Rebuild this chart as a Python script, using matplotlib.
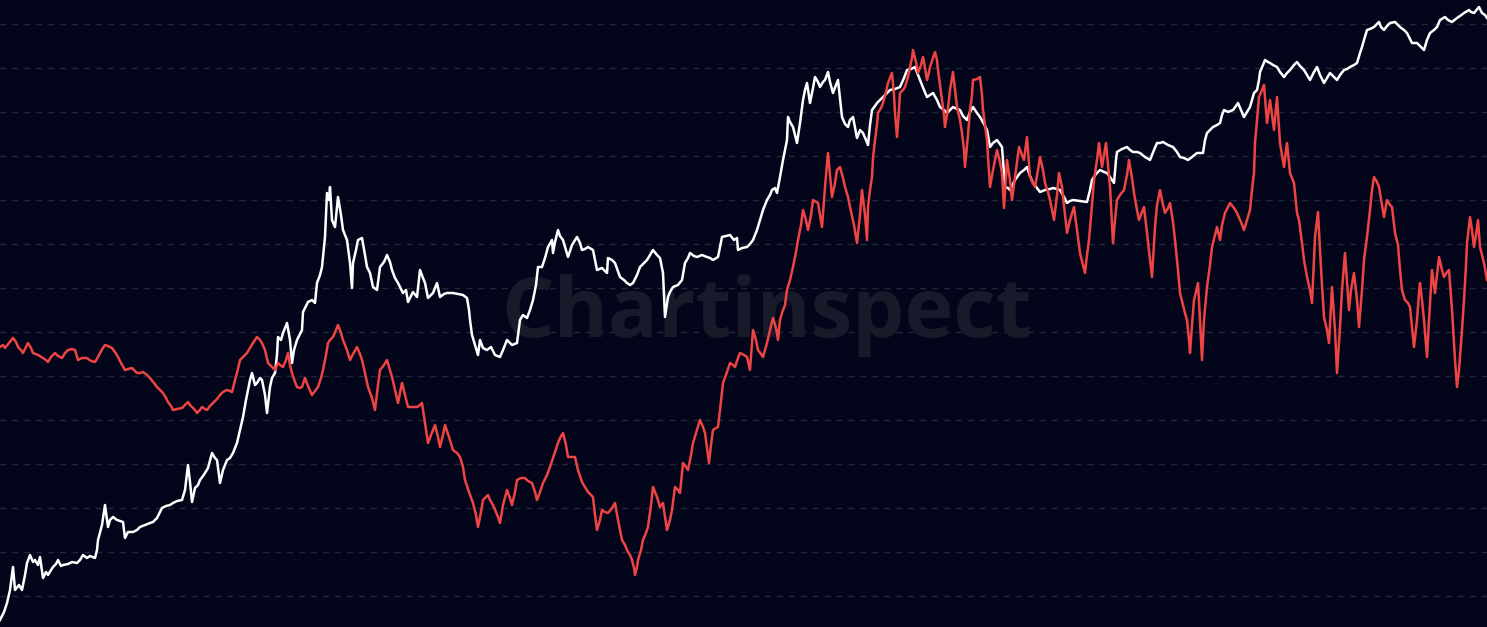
import numpy as np
import matplotlib
matplotlib.use("Agg")
import matplotlib.pyplot as plt

# values (x = time step, value on the chart's own scale)
white_pts = [(0,7),(4,15),(7,24),(10,37),(13,60),(15,37),(19,42),(22,37),(25,52),(27,64),(30,72),(33,65),(35,67),(38,62),(40,70),(43,49),(46,55),(48,52),(51,57),(53,60),(56,63),(58,67),(61,61),(63,62),(68,63),(72,65),(77,64),(80,67),(83,72),(87,69),(90,71),(95,69),(97,77),(98,87),(102,102),(105,122),(108,100),(110,107),(113,110),(117,107),(120,106),(123,105),(125,89),(128,95),(133,95),(137,97),(140,100),(145,102),(150,104),(153,105),(157,109),(162,119),(166,121),(170,122),(173,124),(177,126),(182,127),(185,137),(188,162),(190,145),(192,125),(195,139),(198,142),(200,147),(203,151),(205,154),(208,159),(212,174),(215,169),(217,167),(220,144),(223,157),(227,167),(230,169),(233,174),(237,184),(240,197),(243,210),(246,227),(248,237),(250,247),(252,254),(255,242),(257,244),(260,249),(262,247),(265,232),(267,214),(270,240),(272,249),(275,254),(277,272),(278,290),(281,287),(283,294),(285,299),(287,304),(290,287),(292,264),(294,277),(297,287),(300,293),(302,297),(303,315),(306,321),(308,325),(312,327),(315,324),(317,344),(320,352),(322,360),(325,390),(327,434),(329,427),(330,440),(332,407),(335,400),(338,430),(341,412),(343,397),(347,387),(350,364),(352,339),(353,364),(356,377),(358,387),(362,389),(365,372),(367,360),(370,354),(373,340),(377,337),(380,360),(384,365),(387,372),(390,365),(392,357),(395,349),(398,344),(403,334),(406,337),(408,325),(413,335),(417,330),(420,357),(423,349),(425,344),(428,329),(433,334),(437,344),(440,330),(444,333),(447,334),(453,334),(458,333),(463,332),(467,329),(469,317),(470,307),(472,292),(475,282),(478,272),(480,287),(483,279),(487,277),(491,280),(495,272),(500,270),(503,277),(507,287),(512,282),(517,284),(520,307),(523,312),(527,309),(530,317),(533,327),(536,342),(538,360),(542,360),(545,369),(548,380),(552,387),(553,374),(555,385),(558,397),(560,391),(563,387),(566,377),(568,370),(572,382),(577,390),(580,384),(582,377),(585,378),(588,380),(593,377),(597,357),(602,359),(607,354),(608,369),(612,367),(615,364),(620,350),(624,347),(627,344),(630,342),(633,344),(637,352),(640,360),(644,364),(647,367),(650,372),(653,377),(657,372),(660,369),(663,354),(665,310),(668,330),(670,335),(673,340),(678,342),(682,347),(685,364),(688,369),(690,374),(694,371),(697,370),(702,372),(707,370),(710,369),(713,367),(718,370),(722,390),(726,391),(730,392),(734,387),(737,389),(738,377),(742,379),(747,380),(750,383),(753,387),(757,397),(760,407),(763,417),(767,427),(770,432),(772,437),(775,439),(777,434),(780,450),(783,467),(785,477),(787,487),(788,510),(790,505),(793,500),(795,492),(797,484),(800,504),(803,527),(805,537),(807,544),(810,524),(813,539),(815,550),(818,545),(820,540),(823,545),(825,547),(828,555),(830,545),(833,534),(836,542),(838,547),(840,529),(842,510),(845,503),(848,500),(850,507),(853,510),(857,489),(860,497),(863,494),(866,487),(868,482),(870,502),(872,517),(875,521),(877,524),(880,527),(883,530),(887,534),(890,537),(895,538),(900,540),(904,549),(907,557),(911,558),(915,560),(920,547),(924,537),(927,530),(933,534),(937,527),(940,520),(944,517),(947,514),(950,517),(953,520),(957,518),(960,517),(963,511),(967,507),(970,515),(973,520),(977,514),(980,510),(984,503),(987,497),(990,480),(993,484),(997,487),(1002,480),(1005,440),(1008,439),(1010,437),(1015,447),(1020,454),(1024,457),(1027,460),(1030,451),(1033,444),(1037,439),(1040,435),(1045,437),(1050,438),(1053,439),(1057,438),(1060,437),(1064,430),(1067,424),(1070,426),(1073,427),(1080,426),(1087,425),(1090,437),(1092,447),(1096,453),(1100,457),(1104,455),(1107,454),(1110,450),(1112,447),(1114,444),(1116,467),(1117,475),(1122,478),(1127,480),(1130,477),(1133,475),(1137,475),(1140,474),(1145,470),(1150,467),(1154,477),(1157,484),(1160,484),(1163,485),(1168,482),(1173,480),(1177,475),(1180,470),(1184,469),(1188,467),(1192,470),(1197,474),(1200,474),(1203,474),(1205,487),(1207,494),(1210,497),(1213,500),(1217,502),(1220,504),(1222,512),(1224,517),(1228,515),(1233,517),(1236,521),(1238,524),(1241,517),(1244,510),(1247,515),(1250,520),(1252,527),(1254,534),(1257,537),(1259,547),(1260,555),(1263,562),(1265,567),(1268,565),(1270,564),(1273,562),(1277,560),(1280,555),(1284,550),(1287,554),(1290,557),(1294,562),(1297,565),(1300,561),(1304,557),(1307,552),(1310,547),(1314,555),(1317,560),(1320,552),(1324,544),(1327,549),(1330,554),(1334,550),(1337,547),(1340,552),(1344,557),(1347,558),(1350,560),(1354,562),(1357,564),(1360,574),(1362,580),(1364,587),(1367,597),(1370,598),(1374,600),(1379,605),(1381,600),(1384,597),(1387,601),(1390,604),(1395,605),(1398,602),(1400,600),(1404,597),(1407,594),(1410,588),(1412,584),(1417,584),(1421,580),(1424,577),(1427,587),(1430,594),(1434,597),(1437,600),(1440,607),(1445,610),(1448,607),(1452,605),(1457,609),(1460,611),(1464,614),(1469,617),(1471,615),(1474,614),(1479,620),(1482,614),(1485,612),(1487,609)]

red_pts = [(0,280),(3,282),(5,279),(9,284),(13,289),(16,285),(18,280),(21,277),(23,274),(26,280),(28,284),(31,279),(33,274),(38,272),(43,269),(46,267),(48,265),(51,270),(55,274),(58,271),(62,269),(65,274),(68,277),(72,278),(75,277),(78,267),(82,269),(87,269),(91,266),(95,265),(98,270),(100,274),(103,279),(105,282),(108,281),(112,279),(115,275),(118,270),(121,264),(125,257),(128,258),(132,259),(135,256),(137,254),(140,254),(143,255),(147,252),(150,249),(154,244),(157,240),(160,237),(163,234),(166,229),(168,225),(171,221),(173,217),(177,218),(182,219),(185,222),(188,225),(190,222),(192,220),(195,217),(197,214),(200,217),(202,220),(205,218),(207,217),(210,221),(213,224),(217,228),(220,232),(223,235),(227,237),(230,236),(232,235),(235,247),(237,254),(240,267),(243,270),(247,274),(250,279),(253,284),(255,287),(257,290),(260,287),(262,284),(265,277),(268,264),(272,260),(275,257),(278,264),(280,262),(283,260),(286,267),(288,274),(290,262),(292,254),(295,245),(297,240),(300,239),(302,240),(305,249),(308,241),(312,232),(315,236),(318,240),(321,249),(323,257),(326,272),(328,284),(330,287),(333,290),(336,297),(338,302),(341,294),(343,287),(347,277),(350,267),(353,273),(357,280),(360,273),(362,267),(365,254),(368,240),(372,229),(375,217),(378,242),(380,257),(384,262),(387,267),(390,257),(392,250),(395,237),(398,224),(400,234),(402,244),(405,232),(408,220),(412,220),(417,220),(420,222),(422,224),(425,204),(428,184),(431,192),(435,202),(438,190),(440,180),(443,192),(445,202),(449,190),(453,177),(457,174),(460,170),(463,160),(465,147),(469,135),(473,124),(476,112),(478,100),(481,115),(483,127),(486,130),(488,132),(490,127),(493,122),(496,115),(498,110),(500,104),(503,122),(507,137),(510,129),(512,122),(515,135),(517,147),(521,149),(525,149),(528,146),(532,144),(535,135),(537,127),(540,135),(543,144),(547,152),(550,160),(554,172),(558,184),(560,189),(563,194),(566,182),(568,170),(572,170),(575,170),(578,157),(582,145),(585,140),(588,135),(591,132),(593,130),(595,112),(597,97),(600,107),(602,117),(605,115),(608,114),(612,119),(615,124),(618,107),(622,87),(625,82),(627,77),(630,72),(632,67),(634,59),(635,52),(637,60),(638,67),(641,77),(643,87),(646,94),(648,100),(651,122),(653,140),(655,135),(657,130),(660,120),(661,122),(663,124),(665,110),(667,97),(670,107),(672,117),(675,140),(678,137),(680,134),(683,164),(686,160),(688,157),(691,172),(693,184),(697,197),(700,207),(703,200),(705,194),(707,179),(709,164),(711,182),(713,197),(716,199),(718,200),(720,217),(723,244),(727,255),(730,264),(733,262),(735,260),(738,269),(740,274),(744,272),(747,270),(750,257),(753,297),(756,287),(758,277),(761,273),(763,270),(765,277),(767,284),(770,297),(773,309),(776,299),(778,287),(780,307),(782,314),(785,322),(787,337),(790,347),(793,360),(796,375),(798,387),(801,402),(803,417),(806,407),(808,397),(811,412),(813,427),(816,425),(818,424),(820,412),(822,400),(825,440),(827,462),(828,474),(830,452),(832,430),(835,444),(837,457),(840,460),(843,449),(845,440),(848,430),(850,420),(854,402),(857,384),(860,412),(862,437),(865,412),(867,387),(868,420),(870,437),(872,450),(873,469),(875,487),(877,502),(878,514),(881,519),(883,524),(886,535),(888,544),(890,549),(892,554),(894,532),(895,514),(897,490),(899,517),(900,534),(903,537),(905,540),(908,550),(910,560),(912,569),(913,577),(916,565),(918,554),(921,562),(923,570),(925,559),(927,547),(929,555),(930,560),(933,569),(935,575),(937,567),(938,557),(940,542),(942,527),(944,512),(945,500),(948,519),(950,537),(953,555),(955,537),(957,520),(960,507),(962,494),(964,477),(965,460),(968,492),(970,517),(972,532),(973,547),(977,548),(980,550),(982,532),(983,517),(985,502),(987,487),(988,470),(990,440),(993,457),(997,477),(1000,465),(1002,454),(1004,419),(1007,467),(1010,447),(1012,427),(1016,457),(1019,480),(1022,472),(1024,467),(1027,490),(1030,450),(1033,444),(1035,440),(1038,457),(1040,470),(1043,457),(1045,444),(1048,435),(1050,427),(1054,407),(1057,432),(1059,454),(1062,440),(1065,412),(1067,394),(1070,407),(1074,420),(1077,397),(1080,374),(1083,362),(1085,354),(1087,372),(1089,387),(1092,422),(1094,447),(1097,467),(1099,484),(1102,460),(1104,472),(1106,484),(1108,462),(1110,440),(1113,384),(1115,407),(1117,427),(1120,432),(1124,437),(1127,452),(1129,467),(1132,449),(1134,434),(1137,417),(1139,407),(1142,415),(1144,420),(1147,394),(1150,367),(1152,350),(1155,400),(1157,422),(1160,437),(1163,422),(1165,414),(1168,419),(1170,424),(1173,405),(1175,387),(1178,357),(1180,334),(1183,322),(1185,314),(1187,307),(1189,287),(1190,274),(1192,302),(1194,327),(1196,335),(1198,344),(1200,307),(1202,267),(1204,307),(1207,340),(1210,362),(1212,380),(1215,392),(1217,400),(1220,387),(1222,402),(1225,414),(1228,420),(1230,424),(1234,419),(1237,414),(1241,405),(1244,397),(1247,407),(1250,417),(1252,437),(1254,454),(1255,484),(1257,507),(1259,530),(1262,537),(1264,542),(1267,504),(1270,527),(1272,512),(1274,497),(1277,530),(1280,484),(1282,472),(1284,460),(1287,484),(1290,454),(1294,444),(1297,414),(1299,407),(1302,384),(1304,367),(1307,350),(1310,337),(1312,324),(1315,390),(1318,415),(1320,377),(1322,342),(1324,310),(1327,297),(1329,284),(1332,340),(1335,297),(1337,254),(1340,300),(1342,337),(1345,374),(1349,317),(1351,337),(1354,354),(1357,327),(1359,300),(1362,337),(1364,367),(1367,390),(1370,417),(1372,437),(1374,450),(1377,445),(1379,440),(1382,422),(1384,410),(1387,427),(1390,422),(1392,420),(1395,394),(1398,382),(1400,357),(1402,337),(1405,327),(1408,324),(1410,320),(1414,280),(1417,307),(1419,334),(1420,344),(1422,327),(1424,307),(1427,270),(1429,307),(1432,357),(1435,334),(1437,352),(1439,370),(1442,357),(1444,350),(1447,355),(1449,357),(1452,317),(1455,267),(1457,240),(1459,257),(1460,270),(1462,297),(1464,327),(1466,362),(1467,384),(1470,410),(1472,397),(1474,380),(1476,392),(1478,407),(1480,380),(1482,372),(1484,364),(1487,347)]

white_x = [p[0] for p in white_pts]
white_y = [p[1] for p in white_pts]
red_x = [p[0] for p in red_pts]
red_y = [p[1] for p in red_pts]

BG = "#03061a"

fig = plt.figure(figsize=(14.87, 6.27), dpi=100, facecolor=BG)
ax = fig.add_axes([0, 0, 1, 1])
ax.set_facecolor(BG)
ax.set_xlim(0, 1487)
ax.set_ylim(0, 627)

# dashed horizontal grid
for gy in np.arange(30.7, 610, 44):
    ax.axhline(gy, color="#23273a", lw=1, ls=(0, (4.3, 4.3)), zorder=1)

# watermark
ax.text(767, 290, "Chartinspect", fontsize=59.5, fontweight="bold",
        family=["Open Sans", "DejaVu Sans"], color="#161a29",
        ha="center", va="baseline", zorder=2)

ax.plot(white_x, white_y, color="#ffffff", lw=1.8, zorder=3)
ax.plot(red_x, red_y, color="#ef4444", lw=1.8, zorder=4)

for s in ax.spines.values():
    s.set_visible(False)
ax.set_xticks([])
ax.set_yticks([])

fig.savefig("out.png", dpi=100, facecolor=BG)
